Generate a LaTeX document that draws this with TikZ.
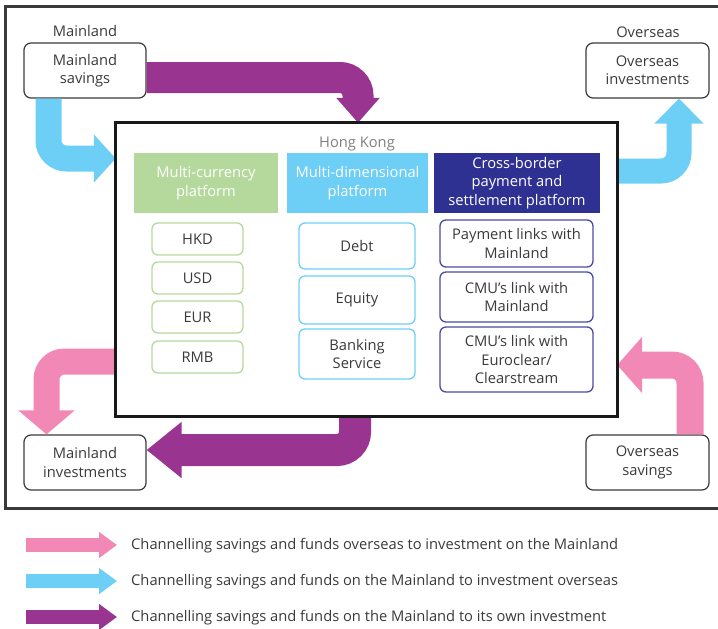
\documentclass[tikz,border=0pt]{standalone}
\usepackage{fontspec}
\setmainfont{Open Sans}
\usetikzlibrary{arrows.meta}
\definecolor{txt}{HTML}{3A3A3A}
\definecolor{pinkc}{HTML}{F288B6}
\definecolor{bluec}{HTML}{6DCFF6}
\definecolor{purplec}{HTML}{993591}
\definecolor{navyc}{HTML}{2E3192}
\definecolor{greenc}{HTML}{B5D99C}
\definecolor{navyline}{HTML}{4A4AA6}
\begin{document}
\begin{tikzpicture}[x=1pt,y=-1pt,
    font=\fontsize{14.7}{18.4}\selectfont, text=txt,
    place/.style={draw=txt, line width=1.2pt, rounded corners=7pt,
      minimum width=122pt, minimum height=55pt, inner sep=0pt, align=center},
    head/.style={minimum height=60pt, inner sep=0pt, align=center, text=white},
    item/.style={rounded corners=6pt, line width=1.3pt, inner sep=0pt, align=center},
    band/.style={line width=#1, rounded corners=18pt}]
  \useasboundingbox (0,0) rectangle (718,629);
  \draw[line width=3pt, txt] (722,6) -- (5,6) -- (5,508) -- (722,508);

  \node (lblml) at (85,31) {Mainland};
  \node[place] (msav) at (85,70.5) {Mainland\\savings};
  \node (lblos) at (648,32) {Overseas};
  \node[place, minimum width=123pt] (oinv) at (647.5,70.5) {Overseas\\investments};
  \node[place] (minv) at (85,462.5) {Mainland\\investments};
  \node[place, minimum width=123pt] (osav) at (647.5,462.5) {Overseas\\savings};

  \node[minimum width=501pt, minimum height=293pt, inner sep=0pt] (hk) at (366.5,269.5) {};
  \node[text=gray] (hklbl) at (357,144) {Hong Kong};

  \node[head, fill=greenc, minimum width=144pt] (cur) at (206,183) {Multi-currency\\platform};
  \node[head, fill=bluec, minimum width=141pt] (dim) at (357.5,183) {Multi-dimensional\\platform};
  \node[head, fill=navyc, minimum width=166pt] (pay) at (517,183) {Cross-border\\payment and\\settlement platform};

  \node[item, draw=greenc, minimum width=91pt, minimum height=32pt] (hkd) at (197.5,239) {HKD};
  \node[item, draw=greenc, minimum width=91pt, minimum height=32pt] (usd) at (197.5,278) {USD};
  \node[item, draw=greenc, minimum width=91pt, minimum height=32pt] (eur) at (197.5,317) {EUR};
  \node[item, draw=greenc, minimum width=91pt, minimum height=32pt] (rmb) at (197.5,357) {RMB};

  \node[item, draw=bluec, minimum width=116pt, minimum height=46pt] (debt) at (357,246) {Debt};
  \node[item, draw=bluec, minimum width=116pt, minimum height=48pt] (eqty) at (357,300) {Equity};
  \node[item, draw=bluec, minimum width=116pt, minimum height=50pt] (bank) at (357,354) {Banking\\Service};

  \node[item, draw=navyline, minimum width=153pt, minimum height=47pt] (plink) at (516.5,243.5) {Payment links with\\Mainland};
  \node[item, draw=navyline, minimum width=153pt, minimum height=50pt] (cmuml) at (516.5,297) {CMU’s link with\\Mainland};
  \node[item, draw=navyline, minimum width=153pt, minimum height=65pt] (cmuec) at (516.5,359.5) {CMU’s link with\\Euroclear/\\Clearstream};

  \draw[band=31pt, purplec, -{Triangle[length=25pt,width=42pt]}]
    (msav.east |- 0,77.5) -| (358,0 |- hk.north);
  \draw[band=26pt, bluec, -{Triangle[length=22pt,width=47pt]}]
    (48.5,0 |- msav.south) |- (hk.west |- 0,158.5);
  \draw[band=32pt, purplec, -{Triangle[length=35pt,width=54pt]}]
    (355,0 |- hk.south) |- (minv.east |- 0,450);
  \draw[band=26pt, pinkc, -{Triangle[length=24pt,width=55pt]}]
    (hk.west |- 0,361.5) -| (46.5,0 |- minv.north);
  \draw[band=25pt, bluec, -{Triangle[length=25pt,width=48pt]}]
    (hk.east |- 0,171) -| (679,0 |- oinv.south);
  \draw[band=27pt, pinkc, -{Triangle[length=25pt,width=55pt]}]
    (690,0 |- osav.north) |- (hk.east |- 0,365);

  \draw[line width=3pt, black!90] (hk.north west) rectangle (hk.south east);

  \node[anchor=west, inner sep=0pt] (lgpink) at (131,546) {Channelling savings and funds overseas to investment on the Mainland};
  \node[anchor=west, inner sep=0pt] (lgblue) at (131,582) {Channelling savings and funds on the Mainland to investment overseas};
  \node[anchor=west, inner sep=0pt] (lgpurple) at (131,618) {Channelling savings and funds on the Mainland to its own investment};
  \coordinate (lgpinkstart) at (26,545);
  \coordinate (lgbluestart) at (26,581);
  \coordinate (lgpurplestart) at (26,617);
  \draw[line width=14pt, pinkc, -{Triangle[length=18pt,width=25pt]}] (lgpinkstart) -- (lgpinkstart -| 117,0);
  \draw[line width=14pt, bluec, -{Triangle[length=18pt,width=25pt]}] (lgbluestart) -- (lgbluestart -| 117,0);
  \draw[line width=14pt, purplec, -{Triangle[length=18pt,width=25pt]}] (lgpurplestart) -- (lgpurplestart -| 117,0);
\end{tikzpicture}
\end{document}
